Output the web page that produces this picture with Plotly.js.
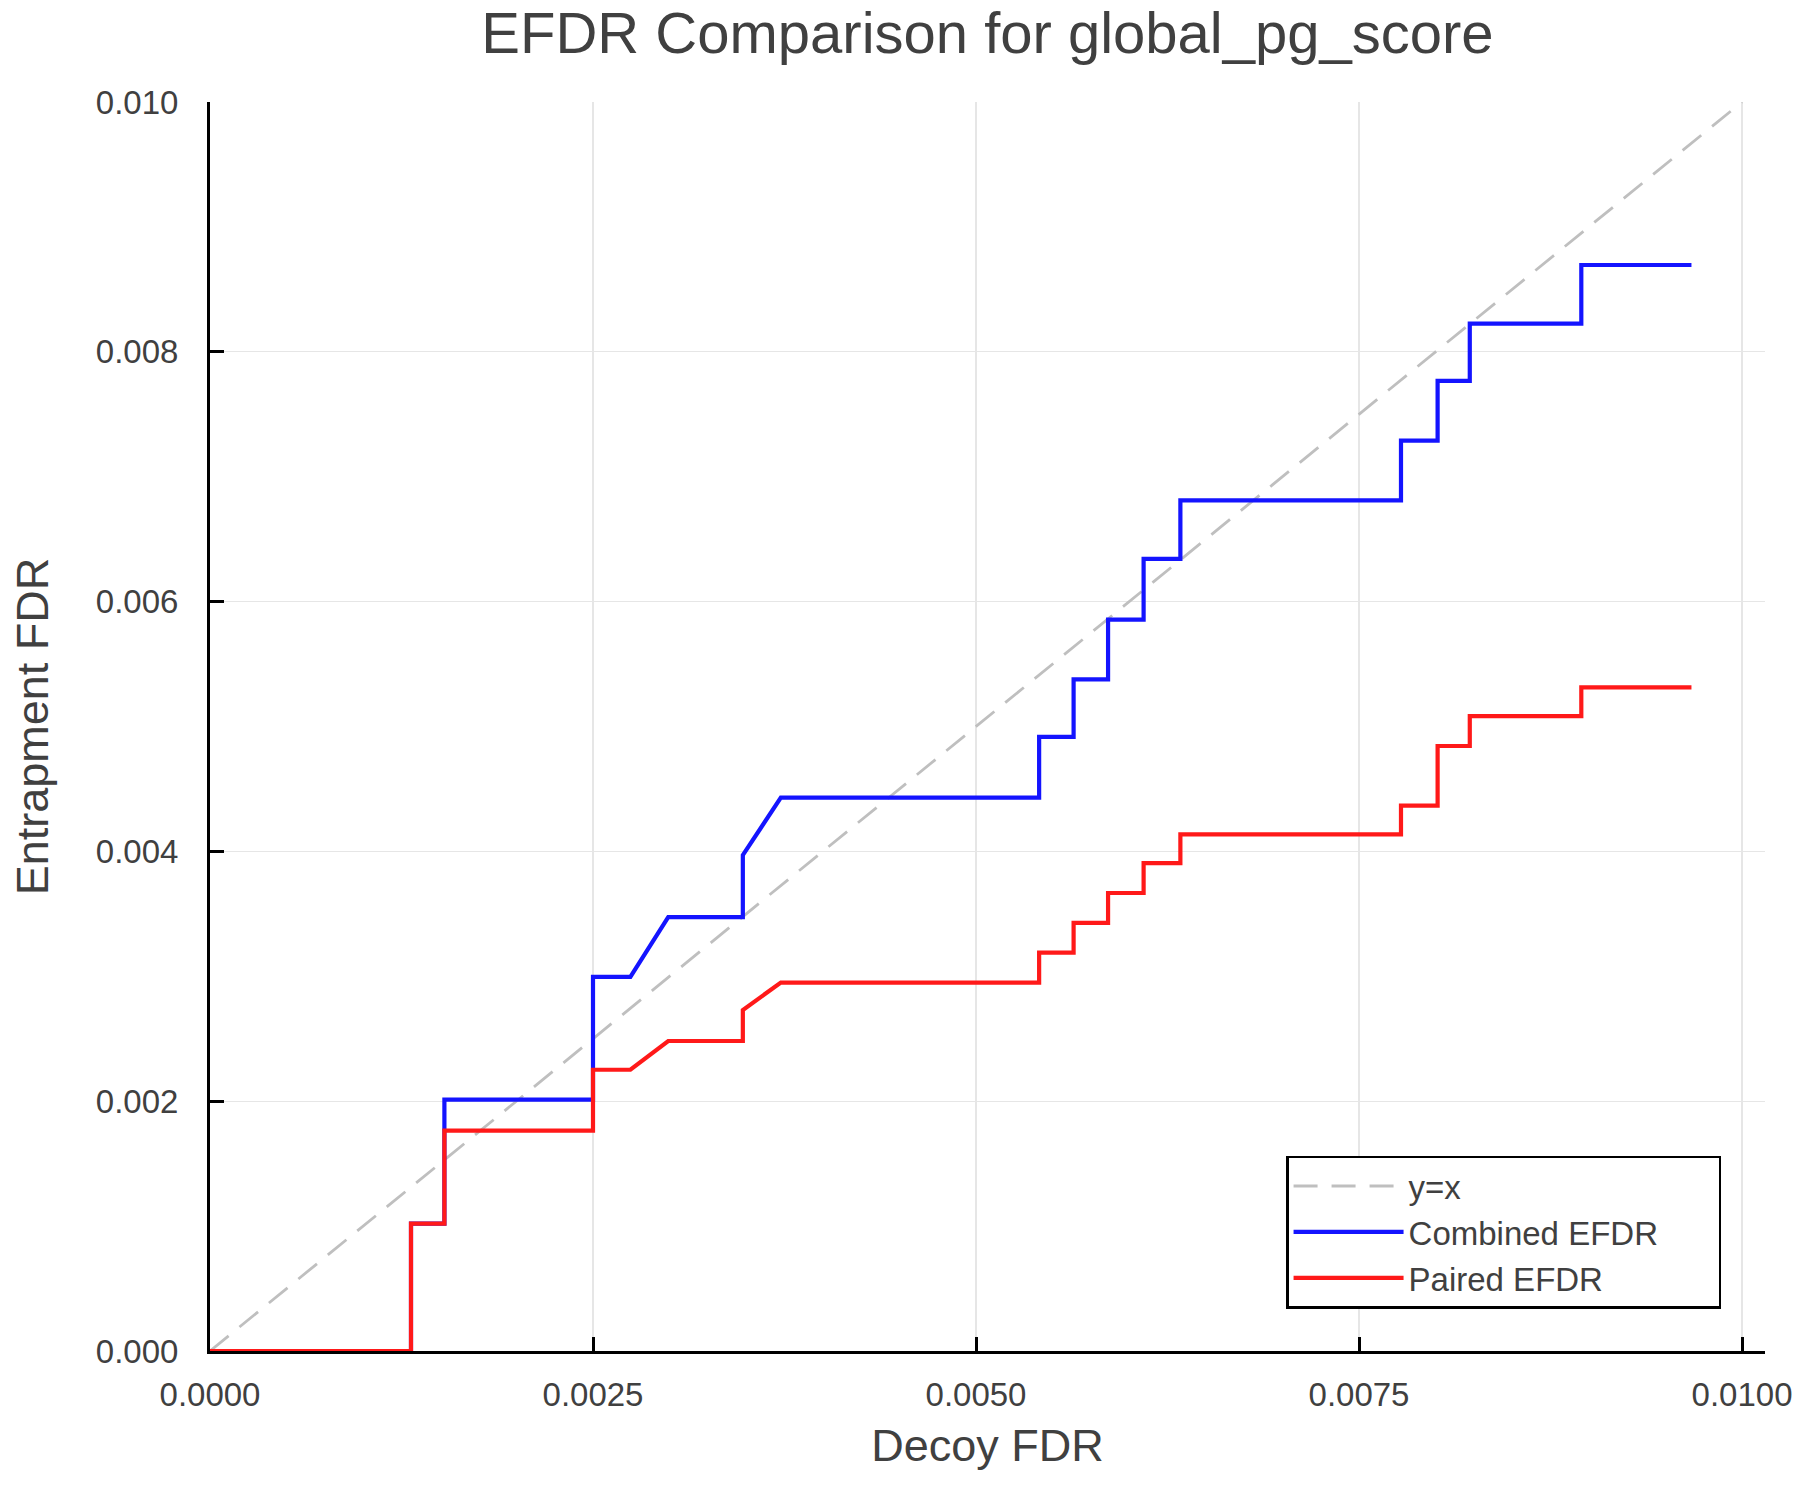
<!DOCTYPE html>
<html>
<head>
<meta charset="utf-8">
<script src="https://cdn.plot.ly/plotly-3.0.1.min.js"></script>
<style>
  html, body { margin: 0; padding: 0; background: #fff; }
  #chart { width: 1800px; height: 1500px; }
</style>
</head>
<body>
<div id="chart"></div>
<script>
// decoy FDR at each curve vertex (shared by both EFDR curves)
const decoyFdr = [0, 0.001312, 0.001312, 0.00153, 0.00153, 0.0025, 0.0025, 0.002744, 0.002991, 0.003478,
    0.003478, 0.003726, 0.005412, 0.005412, 0.005637, 0.005637, 0.005862, 0.005862, 0.006094, 0.006094,
    0.006334, 0.006334, 0.007774, 0.007774, 0.008013, 0.008013, 0.008223, 0.008223, 0.008951, 0.008951, 0.00967];
const combinedEfdr = [0, 0, 0.00102, 0.00102, 0.002013, 0.002013, 0.002996, 0.002996, 0.003474, 0.003474,
    0.00397, 0.00443, 0.00443, 0.004917, 0.004917, 0.005377, 0.005377, 0.005855, 0.005855, 0.006342,
    0.006342, 0.00681, 0.00681, 0.007289, 0.007289, 0.007767, 0.007767, 0.008226, 0.008226, 0.008695, 0.008695];
const pairedEfdr = [0, 0, 0.00102, 0.00102, 0.001765, 0.001765, 0.002252, 0.002252, 0.002482, 0.002482,
    0.00273, 0.00295, 0.00295, 0.00319, 0.00319, 0.003428, 0.003428, 0.003667, 0.003667, 0.003906,
    0.003906, 0.004136, 0.004136, 0.004366, 0.004366, 0.004844, 0.004844, 0.005083, 0.005083, 0.005313, 0.005313];
const diagX = [0, 0.01];
const diagY = [0, 0.01];

const xTicks = [0, 0.0025, 0.005, 0.0075, 0.01];
const xTickText = ['0.0000', '0.0025', '0.0050', '0.0075', '0.0100'];
const yTicks = [0, 0.002, 0.004, 0.006, 0.008, 0.01];
const yTickText = ['0.000', '0.002', '0.004', '0.006', '0.008', '0.010'];

const font = 'Liberation Sans, Arial, sans-serif';
const textColor = '#404040';
// the legend box in the original has empty room right of the longest label
const legendPad = '\u00a0'.repeat(6);

var data = [
    {
        x: diagX, y: diagY, mode: 'lines', type: 'scatter', name: 'y=x',
        line: { color: '#bfbfbf', width: 2.8, dash: '24px,14px' }
    },
    {
        x: decoyFdr, y: combinedEfdr, mode: 'lines', type: 'scatter', name: 'Combined EFDR' + legendPad,
        line: { color: 'rgb(20,20,255)', width: 4.2 }
    },
    {
        x: decoyFdr, y: pairedEfdr, mode: 'lines', type: 'scatter', name: 'Paired EFDR',
        line: { color: 'rgb(255,25,25)', width: 4.2 }
    }
];

const axisCommon = {
    showline: true,
    linecolor: '#000',
    linewidth: 3,
    mirror: false,
    ticks: 'inside',
    ticklen: 14,
    tickwidth: 3,
    tickcolor: '#000',
    showgrid: true,
    gridcolor: '#e6e6e6',
    gridwidth: 1.2,
    zeroline: false,
    tickfont: { family: font, size: 33, color: textColor },
    automargin: false
};

var layout = {
    width: 1800,
    height: 1500,
    paper_bgcolor: '#fff',
    plot_bgcolor: '#fff',
    margin: { l: 210, r: 35, t: 102, b: 149 },
    title: {
        text: 'EFDR Comparison for global_pg_score',
        font: { family: font, size: 58, color: textColor },
        x: 0.5, xref: 'paper',
        y: 0.978, yanchor: 'middle'
    },
    xaxis: Object.assign({}, axisCommon, {
        range: [0, 0.01015],
        tickvals: xTicks,
        ticktext: xTickText,
        ticklabelstandoff: 12,
        title: { text: 'Decoy FDR', font: { family: font, size: 45, color: textColor }, standoff: 18 }
    }),
    yaxis: Object.assign({}, axisCommon, {
        range: [0, 0.01],
        tickvals: yTicks,
        ticktext: yTickText,
        ticklabelstandoff: 22,
        title: { text: 'Entrapment FDR', font: { family: font, size: 45, color: textColor }, standoff: 34 }
    }),
    showlegend: true,
    legend: {
        x: 0.692, xanchor: 'left',
        y: 0.034, yanchor: 'bottom',
        bgcolor: '#fff',
        bordercolor: '#000',
        borderwidth: 2.5,
        font: { family: font, size: 33, color: textColor },
        itemwidth: 110
    }
};

Plotly.newPlot('chart', data, layout, { staticPlot: true, displayModeBar: false });
</script>
</body>
</html>
